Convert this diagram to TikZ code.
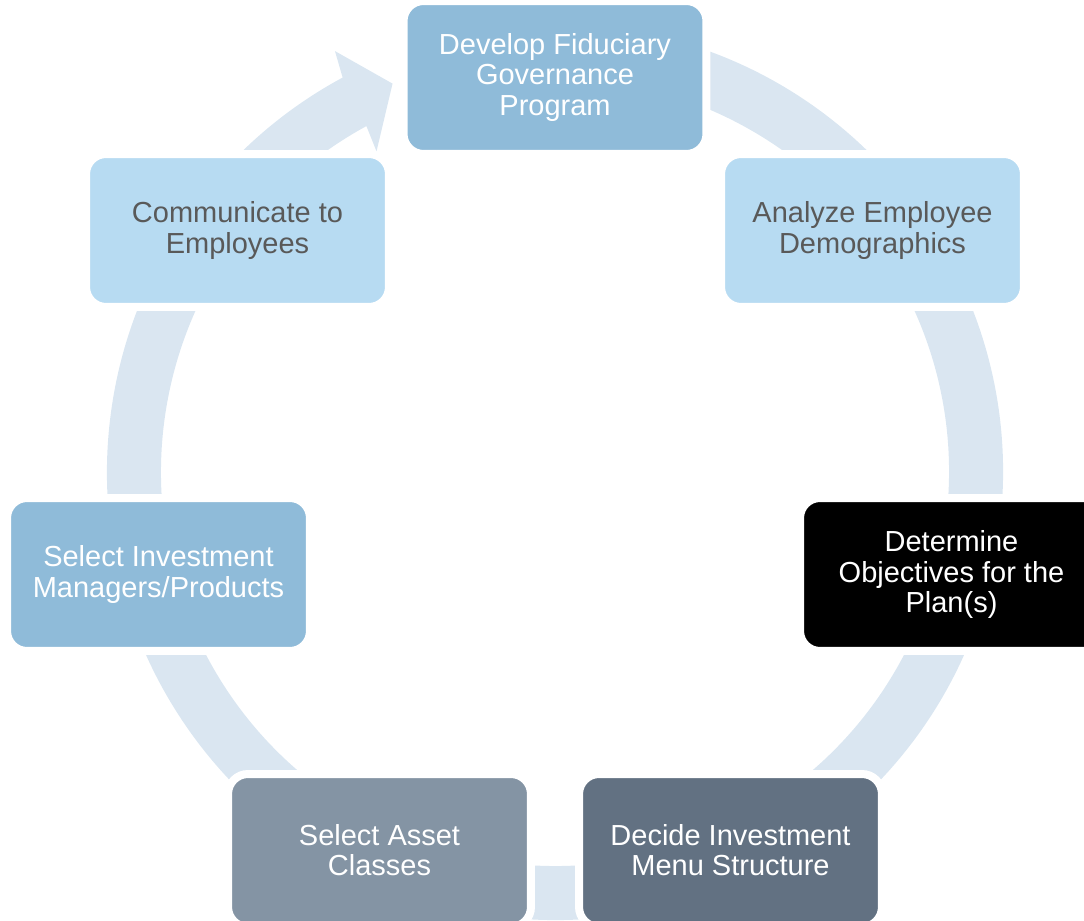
\documentclass[tikz,border=0pt]{standalone}
\usepackage{fontspec}
\setmainfont{Liberation Sans}
\usetikzlibrary{calc}
\definecolor{ringblue}{HTML}{DAE6F1}
\definecolor{boxmid}{HTML}{8FBBD9}
\definecolor{boxlight}{HTML}{B7DBF2}
\definecolor{boxslate}{HTML}{627182}
\definecolor{boxgray}{HTML}{8494A4}
\definecolor{textgray}{HTML}{595959}

\begin{document}
\begin{tikzpicture}[x=0.02cm,y=0.02cm,
  stage/.style={rectangle, rounded corners=0.4cm, draw=white, line width=0.16cm,
    minimum width=6.06cm, minimum height=3.06cm, inner sep=0pt, align=center,
    font=\fontsize{16.5}{17.1}\selectfont}]
\clip (0,0) rectangle (1084,920);
\coordinate (ctr) at (555,448);
% cycle arrow behind the boxes
\fill[ringblue] ($(ctr)+(80:448)$) arc[start angle=80, end angle=-241.7, radius=448]
  -- ($(ctr)+(-242.4:475)$) -- ($(ctr)+(-247.3:421)$) -- ($(ctr)+(-240.9:367)$)
  -- ($(ctr)+(-241.4:394)$) arc[start angle=-241.4, end angle=80, radius=394] -- cycle;
% stages
\node[stage, fill=boxmid, text=white] (develop) at (555,842.5) {Develop Fiduciary\\Governance\\Program};
\node[stage, fill=boxlight, text=textgray] (analyze) at (872.5,689.5) {Analyze Employee\\Demographics};
\node[stage, fill=black, text=white] (objectives) at (951.5,345.5) {Determine\\Objectives for the\\Plan(s)};
\node[stage, fill=boxslate, text=white] (menu) at (730.5,69.5) {Decide Investment\\Menu Structure};
\node[stage, fill=boxgray, text=white] (assets) at (379.5,69.5) {Select Asset\\Classes};
\node[stage, fill=boxmid, text=white] (managers) at (158.5,345.5) {Select Investment\\Managers/Products};
\node[stage, fill=boxlight, text=textgray] (communicate) at (237.5,689.5) {Communicate to\\Employees};
\end{tikzpicture}
\end{document}
